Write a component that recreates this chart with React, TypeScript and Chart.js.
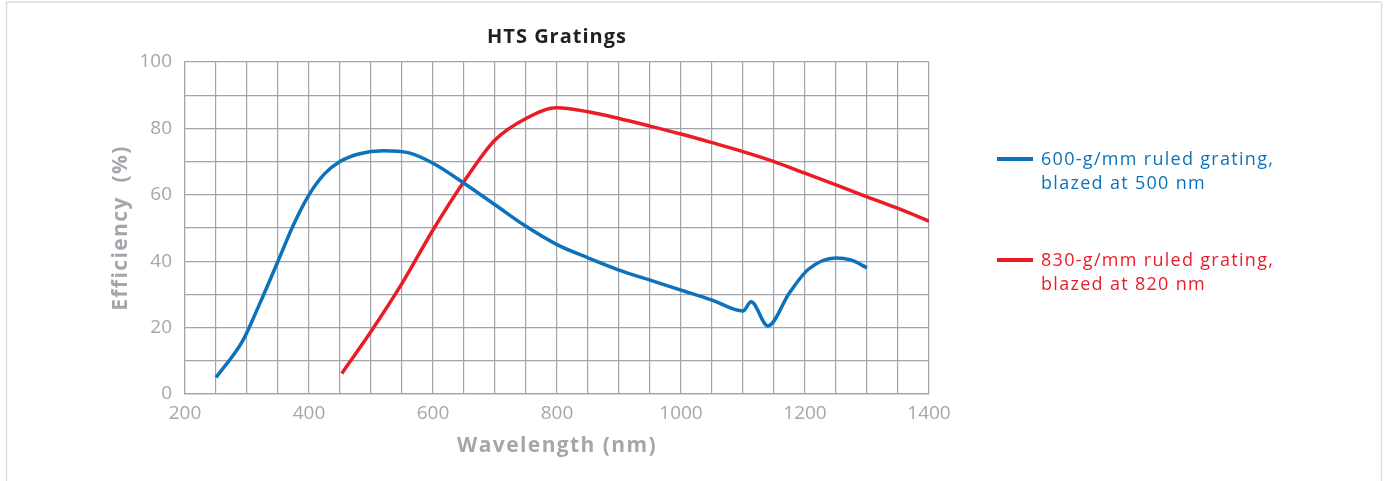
import React, { useEffect, useRef } from "react";
import { Chart, registerables } from "chart.js";

Chart.register(...registerables);

const TITLE = "HTS Gratings";
const X_TITLE = "Wavelength (nm)";
const Y_TITLE = "Efficiency  (%)";

const blueWavelength = [250, 293, 320, 350, 375, 400, 425, 450, 480, 520, 560, 600, 650, 700, 750, 800, 850, 900, 950, 1000, 1050, 1100, 1113, 1140, 1175, 1205, 1250, 1275, 1300];
const blueEfficiency = [5, 16, 27, 40, 51, 60, 66.3, 70, 72.3, 73.3, 72.7, 69.5, 63.5, 57, 50.5, 45, 41, 37.3, 34.3, 31.3, 28.3, 25, 27.8, 20.5, 30.5, 37.5, 41, 40.3, 38];

const redWavelength = [453, 500, 550, 600, 650, 700, 750, 800, 850, 900, 950, 1000, 1050, 1100, 1150, 1200, 1250, 1300, 1350, 1400];
const redEfficiency = [6.2, 18.8, 33.3, 49.4, 64, 76.5, 83, 86.2, 85, 83, 80.7, 78.3, 75.7, 73, 70, 66.5, 63, 59.4, 55.9, 52.1];

const seriesNames = ["600-g/mm ruled grating, blazed at 500 nm", "830-g/mm ruled grating, blazed at 820 nm"];
const legendLines = [
  ["600-g/mm ruled grating,", "blazed at 500 nm"],
  ["830-g/mm ruled grating,", "blazed at 820 nm"],
];
const seriesColors = ["#0b72bb", "#ec1c26"];

const X_MIN = 200, X_MAX = 1400, X_STEP = 50, X_LABEL_EVERY = 200;
const Y_MIN = 0, Y_MAX = 100, Y_STEP = 10, Y_LABEL_EVERY = 20;

const GRID = "#a2a4a9";
const AXIS_TEXT = "#a4a6ab";
const FONT = "'Open Sans', 'DejaVu Sans', sans-serif";

const overlay = {
  id: "overlay",
  beforeDraw(chart: any) {
    const ctx = chart.ctx;
    ctx.save();
    ctx.strokeStyle = "#dcdcdc";
    ctx.lineWidth = 1.5;
    ctx.beginPath();
    ctx.moveTo(6, 2);
    ctx.lineTo(1381, 2);
    ctx.moveTo(6.5, 2);
    ctx.lineTo(6.5, 481);
    ctx.moveTo(1381.5, 2);
    ctx.lineTo(1381.5, 481);
    ctx.stroke();
    ctx.restore();
  },
  afterDraw(chart: any) {
    const ctx = chart.ctx;
    const { left, right, top, bottom } = chart.chartArea;
    const cx = (left + right) / 2;
    ctx.save();
    ctx.textAlign = "center";
    ctx.textBaseline = "middle";

    // chart title
    ctx.fillStyle = "#231f20";
    ctx.font = `bold 20px ${FONT}`;
    (ctx as any).letterSpacing = "1px";
    ctx.fillText(TITLE, cx, 37);

    // axis titles
    ctx.fillStyle = AXIS_TEXT;
    ctx.font = `bold 21px ${FONT}`;
    (ctx as any).letterSpacing = "1.4px";
    ctx.fillText(X_TITLE, cx, 446);
    ctx.save();
    ctx.translate(121, (top + bottom) / 2);
    ctx.rotate(-Math.PI / 2);
    ctx.fillText(Y_TITLE, 0, 0);
    ctx.restore();

    // legend
    const entryY = [159, 260];
    (ctx as any).letterSpacing = "1.3px";
    legendLines.forEach((lines, i) => {
      const y = entryY[i];
      ctx.strokeStyle = seriesColors[i];
      ctx.lineWidth = 4;
      ctx.beginPath();
      ctx.moveTo(997, y);
      ctx.lineTo(1033, y);
      ctx.stroke();
      ctx.fillStyle = seriesColors[i];
      ctx.font = `18px ${FONT}`;
      ctx.textAlign = "left";
      ctx.textBaseline = "middle";
      lines.forEach((t, j) => ctx.fillText(t, 1041, y + 1 + j * 24));
    });
    (ctx as any).letterSpacing = "0px";
    ctx.restore();
  },
};

export default function App() {
  const ref = useRef<HTMLCanvasElement>(null);
  useEffect(() => {
    document.body.style.margin = "0";
    const xs = [blueWavelength, redWavelength];
    const ys = [blueEfficiency, redEfficiency];
    const chart = new Chart(ref.current!, {
      type: "line",
      data: {
        datasets: seriesNames.map((name, i) => ({
          label: name,
          data: xs[i].map((x, k) => ({ x, y: ys[i][k] })),
          borderColor: seriesColors[i],
          backgroundColor: seriesColors[i],
          borderWidth: 3.5,
          pointRadius: 0,
          cubicInterpolationMode: "monotone" as const,
          fill: false,
        })),
      },
      options: {
        responsive: false,
        animation: false,
        events: [],
        layout: { padding: { left: 100, right: 456, top: 62, bottom: 0 } },
        plugins: { legend: { display: false }, title: { display: false }, tooltip: { enabled: false } },
        scales: {
          x: {
            type: "linear",
            min: X_MIN,
            max: X_MAX,
            afterFit(scale: any) { scale.height = 87; },
            ticks: {
              stepSize: X_STEP,
              padding: 8,
              maxRotation: 0,
              autoSkip: false,
              color: AXIS_TEXT,
              font: { family: FONT, size: 19 },
              callback: (v: any) => (Number(v) % X_LABEL_EVERY === 0 ? String(v) : ""),
            },
            grid: { color: GRID, lineWidth: 1.2, drawTicks: false },
            border: { color: GRID, width: 1.2 },
          },
          y: {
            type: "linear",
            min: Y_MIN,
            max: Y_MAX,
            afterFit(scale: any) { scale.width = 85; },
            ticks: {
              stepSize: Y_STEP,
              padding: 13,
              autoSkip: false,
              color: AXIS_TEXT,
              font: { family: FONT, size: 19 },
              callback: (v: any) => (Number(v) % Y_LABEL_EVERY === 0 ? String(v) : ""),
            },
            grid: { color: GRID, lineWidth: 1.2, drawTicks: false },
            border: { color: GRID, width: 1.2 },
          },
        },
      },
      plugins: [overlay],
    });
    return () => chart.destroy();
  }, []);
  return (
    <div style={{ width: 1385, height: 481 }}>
      <canvas ref={ref} width={1385} height={481} />
    </div>
  );
}
